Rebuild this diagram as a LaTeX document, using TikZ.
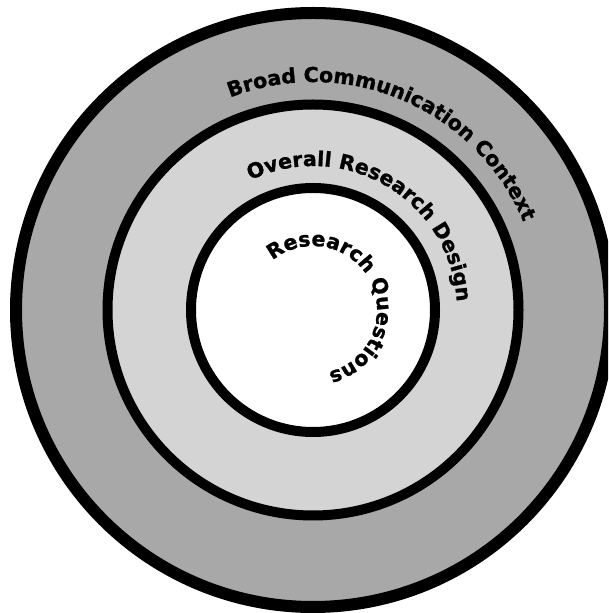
\documentclass[tikz,border=0pt]{standalone}
\usepackage{fontspec}
\setmainfont{DejaVu Sans}[BoldFeatures={FakeBold=1.2}]
\usetikzlibrary{decorations.text}
\definecolor{contextgray}{RGB}{168,168,168}
\definecolor{designgray}{RGB}{212,212,212}
\newcommand{\ringfont}{\fontsize{20.5}{24}\selectfont\bfseries}

\begin{document}
\begin{tikzpicture}[x=1pt, y=1pt,
    ring/.style={draw=black, line width=10pt},
    curved/.style={decorate, decoration={text along path, text align=center, text={|\ringfont|#1}}}
]
    \useasboundingbox (0,0) rectangle (608,613);
    \clip (0,0) rectangle (608,613);
    \fill[white] (0,0) rectangle (608,613);
    \coordinate (c) at (313,303);

    % the three nested circles
    \draw[ring, line width=12pt, fill=contextgray] (c) circle[radius=297];
    \draw[ring, fill=designgray] (c) circle[radius=205.5];
    \draw[ring, fill=white] (c) circle[radius=122];

    % labels bent along each ring, centred on the arc's middle
    \path[curved={Broad Communication Context}]
        ([shift={(137:228)}]c) arc[start angle=137, end angle=-3, radius=228];
    \path[curved={Overall Research Design}]
        ([shift={(139.5:144)}]c) arc[start angle=139.5, end angle=-20.5, radius=144];
    \path[curved={Research Questions}]
        ([shift={(176.5:64)}]c) arc[start angle=176.5, end angle=-123.5, radius=64];
\end{tikzpicture}
\end{document}
